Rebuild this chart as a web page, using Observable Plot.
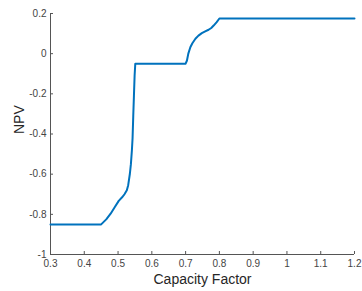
<!DOCTYPE html>
<html>
<head>
<meta charset="utf-8">
<script src="https://cdn.jsdelivr.net/npm/d3@7"></script>
<script src="https://cdn.jsdelivr.net/npm/@observablehq/plot@0.6"></script>
<style>
  html, body { margin: 0; padding: 0; background: #fff; }
  #chart { width: 362px; height: 291px; }
</style>
</head>
<body>
<div id="chart"></div>
<script>
const capacityFactor = [0.3, 0.45, 0.465, 0.478, 0.49, 0.502, 0.512, 0.519, 0.526, 0.530, 0.535, 0.538, 0.541, 0.543, 0.545, 0.547, 0.549, 0.551, 0.70, 0.704, 0.708, 0.714, 0.72, 0.729, 0.738, 0.748, 0.758, 0.768, 0.776, 0.783, 0.792, 0.8, 1.2];
const npv = [-0.85, -0.85, -0.825, -0.797, -0.765, -0.733, -0.715, -0.70, -0.68, -0.655, -0.598, -0.55, -0.48, -0.42, -0.31, -0.21, -0.11, -0.05, -0.05, -0.034, 0.0, 0.032, 0.052, 0.074, 0.09, 0.102, 0.111, 0.119, 0.128, 0.14, 0.157, 0.175, 0.175];
const xTicks = [0.3, 0.4, 0.5, 0.6, 0.7, 0.8, 0.9, 1, 1.1, 1.2];
const yTicks = [-1, -0.8, -0.6, -0.4, -0.2, 0, 0.2];
const xLabel = "Capacity Factor";
const yLabel = "NPV";

const data = capacityFactor.map((x, i) => ({x, y: npv[i]}));
const fmt = d => String(+d.toFixed(2));
const font = "Liberation Sans, Arial, Helvetica, sans-serif";

const chart = Plot.plot({
  width: 362,
  height: 291,
  marginLeft: 50,
  marginRight: 8,
  marginTop: 13,
  marginBottom: 37,
  style: {fontFamily: font, background: "#fff", overflow: "visible"},
  x: {domain: [0.3, 1.2]},
  y: {domain: [-1, 0.2]},
  marks: [
    Plot.ruleY([-1], {stroke: "#555", strokeWidth: 1}),
    Plot.ruleX([0.3], {stroke: "#555", strokeWidth: 1}),
    Plot.axisX(xTicks, {tickSize: -3, tickPadding: 8, tickFormat: fmt, fontSize: 10, stroke: "#555", fill: "#444", label: null}),
    Plot.axisY(yTicks, {tickSize: -3, tickPadding: 7, tickFormat: fmt, fontSize: 10, stroke: "#555", fill: "#444", label: null}),
    Plot.line(data, {x: "x", y: "y", stroke: "#0072BD", strokeWidth: 2}),
    Plot.text([xLabel], {frameAnchor: "bottom", dy: 25, fontSize: 14, fill: "#262626", lineAnchor: "middle"}),
    Plot.text([yLabel], {frameAnchor: "left", dx: -31, rotate: -90, fontSize: 14, fill: "#262626", lineAnchor: "middle"})
  ]
});
document.getElementById("chart").append(chart);
</script>
</body>
</html>
